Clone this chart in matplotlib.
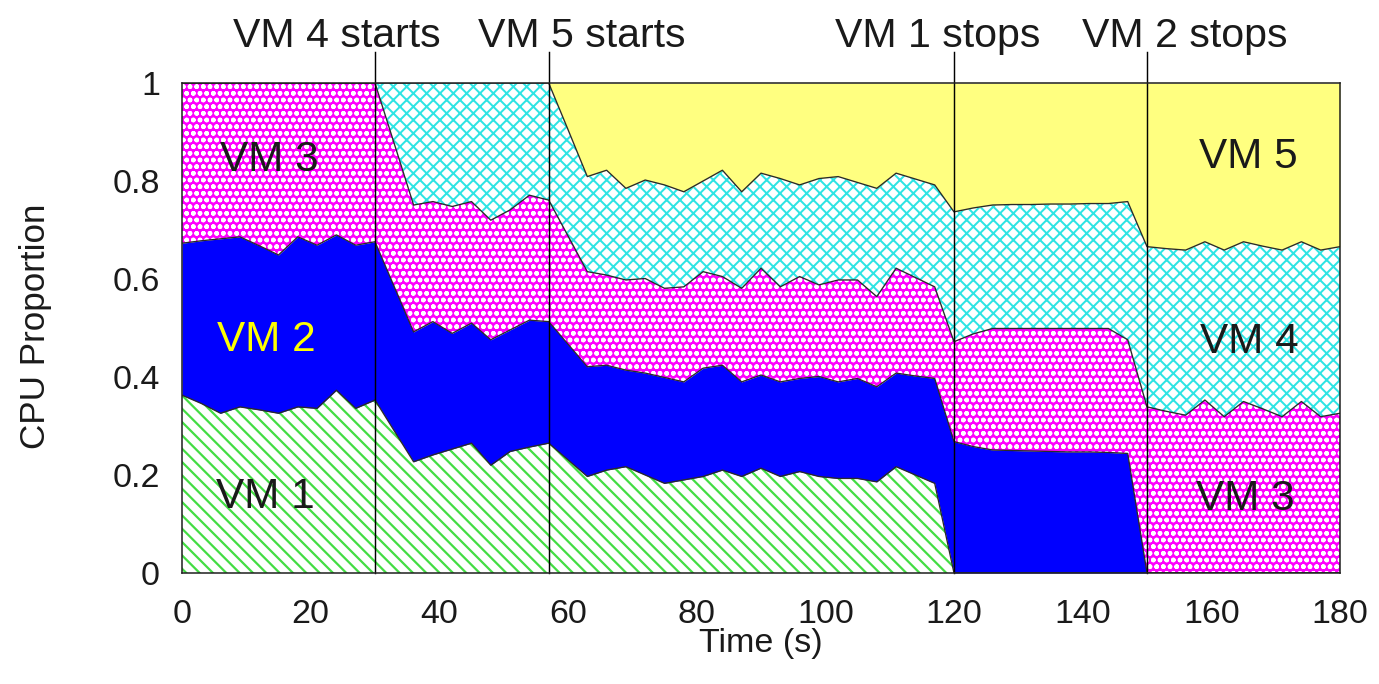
import matplotlib
matplotlib.use("Agg")
import matplotlib.pyplot as plt
import numpy as np

# Sample times (s)
time_s = list(range(0, 181, 3))

# CPU share of each VM at each sample
vm1 = [0.363, 0.346, 0.326, 0.339, 0.333, 0.326, 0.339, 0.336, 0.373, 0.336, 0.353,
       0.290, 0.227, 0.241, 0.253, 0.265, 0.220, 0.248, 0.257, 0.265,
       0.231, 0.197, 0.210, 0.217, 0.200, 0.183, 0.190, 0.197, 0.210, 0.197,
       0.214, 0.197, 0.207, 0.197, 0.193, 0.193, 0.186, 0.217, 0.200, 0.183,
       0, 0, 0, 0, 0, 0, 0, 0, 0, 0, 0,
       0, 0, 0, 0, 0, 0, 0, 0, 0, 0]
vm2 = [0.310, 0.332, 0.356, 0.347, 0.335, 0.323, 0.347, 0.333, 0.317, 0.333, 0.323,
       0.294, 0.265, 0.272, 0.236, 0.245, 0.256, 0.248, 0.259, 0.248,
       0.236, 0.224, 0.214, 0.197, 0.208, 0.216, 0.200, 0.221, 0.214, 0.193,
       0.190, 0.193, 0.190, 0.204, 0.197, 0.204, 0.194, 0.191, 0.202, 0.214,
       0.268, 0.258, 0.251, 0.250, 0.249, 0.248, 0.247, 0.247, 0.246, 0.244,
       0, 0, 0, 0, 0, 0, 0, 0, 0, 0, 0]
vm3 = [0.327, 0.322, 0.318, 0.314, 0.332, 0.351, 0.314, 0.331, 0.310, 0.331, 0.324,
       0.292, 0.259, 0.245, 0.259, 0.248, 0.244, 0.245, 0.255, 0.248,
       0.221, 0.194, 0.184, 0.184, 0.193, 0.182, 0.194, 0.197, 0.181, 0.191,
       0.218, 0.194, 0.208, 0.187, 0.208, 0.201, 0.184, 0.214, 0.201, 0.187,
       0.204, 0.230, 0.248, 0.249, 0.250, 0.251, 0.252, 0.252, 0.253, 0.232,
       0.339, 0.330, 0.322, 0.353, 0.319, 0.350, 0.335, 0.319, 0.350, 0.319, 0.326]
vm4 = [0, 0, 0, 0, 0, 0, 0, 0, 0, 0, 0,
       0.124, 0.249, 0.242, 0.252, 0.242, 0.280, 0.259, 0.229, 0.239,
       0.217, 0.194, 0.214, 0.187, 0.201, 0.211, 0.194, 0.185, 0.217, 0.197,
       0.194, 0.221, 0.187, 0.217, 0.211, 0.199, 0.221, 0.194, 0.201, 0.208,
       0.265, 0.257, 0.252, 0.253, 0.253, 0.254, 0.254, 0.255, 0.255, 0.282,
       0.327, 0.332, 0.337, 0.323, 0.340, 0.326, 0.332, 0.340, 0.326, 0.340, 0.340]
vm5 = [0, 0, 0, 0, 0, 0, 0, 0, 0, 0, 0,
       0, 0, 0, 0, 0, 0, 0, 0, 0,
       0.095, 0.191, 0.178, 0.215, 0.198, 0.208, 0.222, 0.200, 0.178, 0.222,
       0.184, 0.195, 0.208, 0.195, 0.191, 0.203, 0.215, 0.184, 0.196, 0.208,
       0.263, 0.255, 0.249, 0.248, 0.248, 0.247, 0.247, 0.246, 0.246, 0.242,
       0.334, 0.338, 0.341, 0.324, 0.341, 0.324, 0.333, 0.341, 0.324, 0.341, 0.334]

vm_names = ["VM 1", "VM 2", "VM 3", "VM 4", "VM 5"]

# Events marked above the plot
event_times = [30, 57, 120, 150]
event_labels = ["VM 4 starts", "VM 5 starts", "VM 1 stops", "VM 2 stops"]
event_label_shift = [-5.9, 5.2, -2.6, 5.8]

x_ticks = [0, 20, 40, 60, 80, 100, 120, 140, 160, 180]
y_ticks = [0, 0.2, 0.4, 0.6, 0.8, 1]
y_tick_labels = ["0", "0.2", "0.4", "0.6", "0.8", "1"]

DPI = 80
plt.rcParams["font.family"] = ["Liberation Sans", "DejaVu Sans"]

fig = plt.figure(figsize=(1379 / DPI, 684 / DPI), dpi=DPI)
ax = fig.add_axes([182 / 1379, 1 - 573 / 684, (1340 - 182) / 1379, (573 - 83) / 684])

t = np.array(time_s, dtype=float)
layers = np.array([vm1, vm2, vm3, vm4, vm5], dtype=float)
tops = np.cumsum(layers, axis=0)
bottoms = np.vstack([np.zeros_like(t), tops[:-1]])

# (face colour, hatch colour, hatch pattern, hatch line width)
styles = [
    ("white", "#44dd44", "\\\\", 2.0),
    ("#0000ff", "#0000ff", None, 1.0),
    ("#ff00ff", "white", "oo", 1.8),
    ("white", "#2ee4e4", "xx", 1.8),
    ("#ffff80", "#ffff80", None, 1.0),
]

for i, (fc, hc, hatch, hlw) in enumerate(styles):
    with plt.rc_context({"hatch.linewidth": hlw}):
        ax.fill_between(t, bottoms[i], tops[i], facecolor=fc, edgecolor=hc,
                        hatch=hatch, linewidth=0, zorder=1)

# Layer boundaries
for i in range(4):
    ax.plot(t, tops[i], color="#2a2a2a", lw=1.2, zorder=2)

# Event markers
for et, lab, dx in zip(event_times, event_labels, event_label_shift):
    ax.plot([et, et], [0, 1.063], color="black", lw=1.3, zorder=3, clip_on=False)
    ax.text(et + dx, 1.074, lab, ha="center", va="baseline", fontsize=37,
            color="#1a1a1a")

# Region labels
ax.text(13.5, 0.843, "VM 3", ha="center", va="center", fontsize=38, color="#1a1a1a", zorder=4)
ax.text(13.1, 0.476, "VM 2", ha="center", va="center", fontsize=38, color="#ffff00", zorder=4)
ax.text(13.0, 0.155, "VM 1", ha="center", va="center", fontsize=38, color="#1a1a1a", zorder=4)
ax.text(165.7, 0.848, "VM 5", ha="center", va="center", fontsize=38, color="#1a1a1a", zorder=4)
ax.text(165.9, 0.471, "VM 4", ha="center", va="center", fontsize=38, color="#1a1a1a", zorder=4)
ax.text(165.3, 0.151, "VM 3", ha="center", va="center", fontsize=38, color="#1a1a1a", zorder=4)

ax.set_xlim(0, 180)
ax.set_ylim(0, 1)
ax.set_xticks(x_ticks)
ax.set_yticks(y_ticks)
ax.set_yticklabels(y_tick_labels)
ax.tick_params(length=0, labelsize=30.6, colors="#1a1a1a")
ax.tick_params(axis="x", pad=23)
ax.tick_params(axis="y", pad=20)

ax.set_xlabel("Time (s)", fontsize=30.6, color="#1a1a1a")
ax.set_ylabel("CPU Proportion", fontsize=31.5, color="#1a1a1a")
ax.xaxis.set_label_coords(0.5, -0.113)
ax.yaxis.set_label_coords(-0.112, 0.503)

for sp in ax.spines.values():
    sp.set_linewidth(1.4)
    sp.set_color("#222222")
    sp.set_zorder(5)

fig.savefig("out.png", dpi=DPI)
